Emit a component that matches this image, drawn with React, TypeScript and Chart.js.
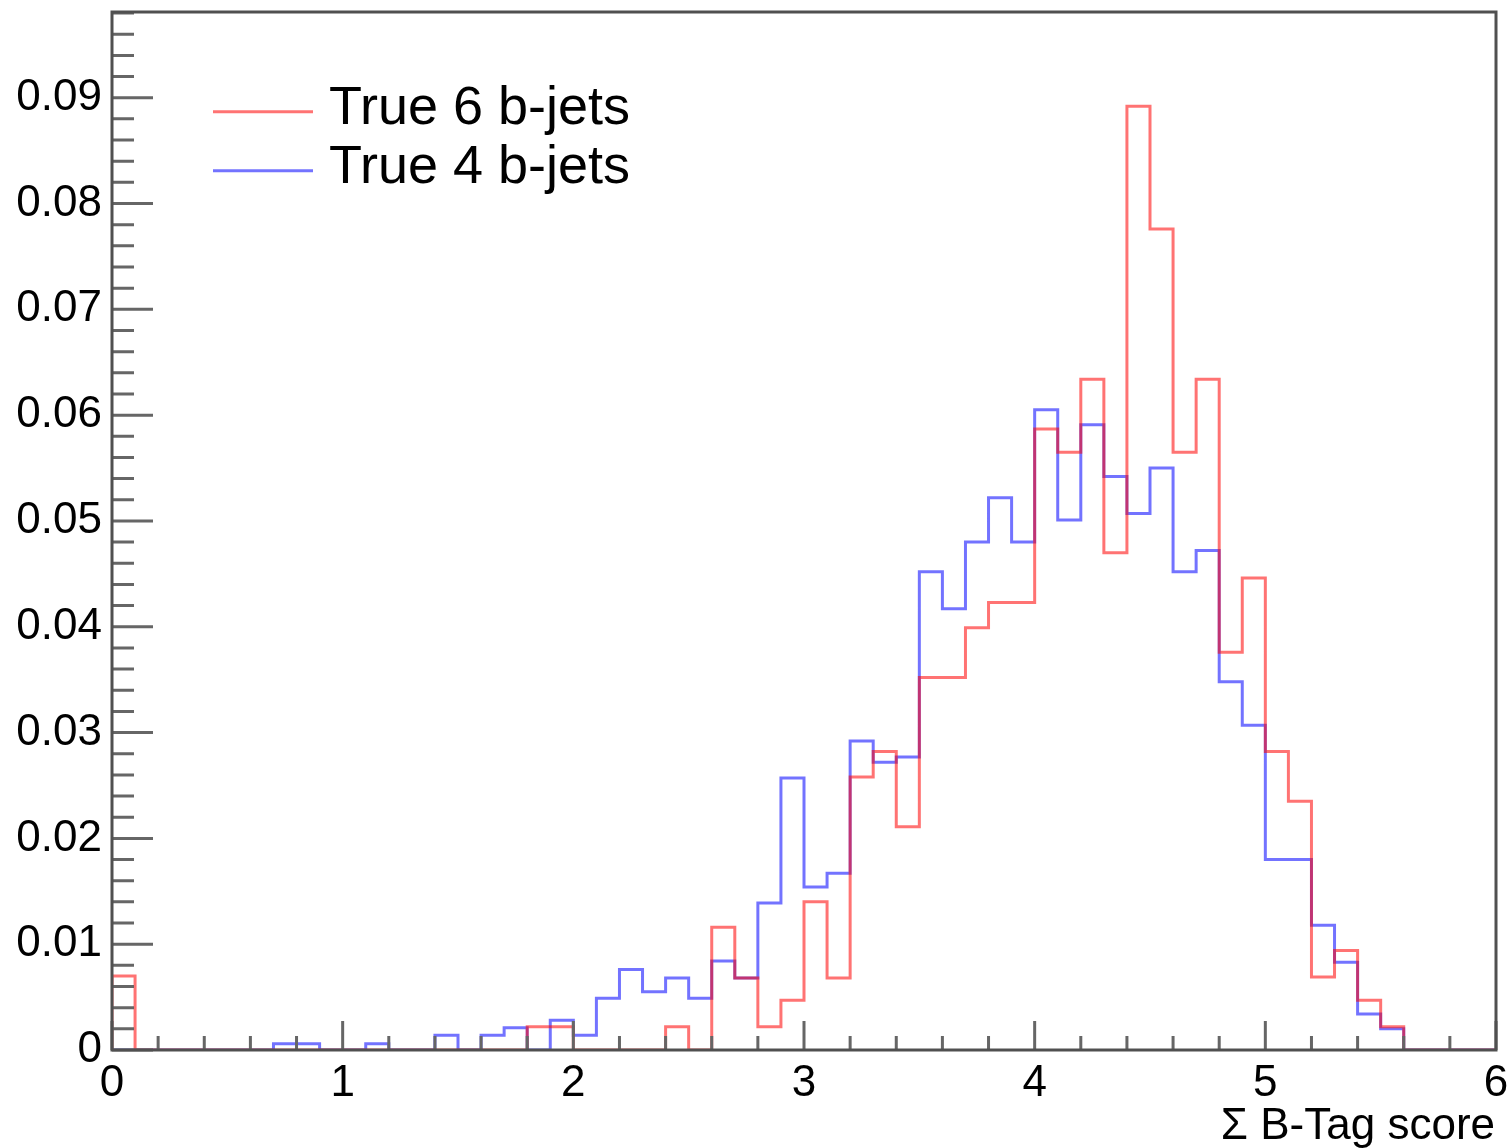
import React, { useEffect, useRef } from 'react';
import { Chart, registerables } from 'chart.js';

Chart.register(...registerables);

// ---- data ----
const binLow = 0;
const binWidth = 0.1;

const true6 = [
  0.0070, 0, 0, 0, 0, 0, 0, 0, 0, 0,
  0, 0, 0, 0, 0, 0, 0, 0, 0.0022, 0.0022,
  0, 0, 0, 0, 0.0022, 0, 0.0116, 0.0068, 0.0022, 0.0047,
  0.0140, 0.0068, 0.0258, 0.0282, 0.0211, 0.0352, 0.0352, 0.0399, 0.0423, 0.0423,
  0.0587, 0.0565, 0.0634, 0.0470, 0.0892, 0.0776, 0.0565, 0.0634, 0.0376, 0.0446,
  0.0282, 0.0235, 0.0069, 0.0094, 0.0047, 0.0022, 0, 0, 0, 0,
];

const true4 = [
  0, 0, 0, 0, 0, 0, 0, 0.0006, 0.0006, 0,
  0, 0.0006, 0, 0, 0.0014, 0, 0.0014, 0.0021, 0, 0.0028,
  0.0014, 0.0049, 0.0076, 0.0055, 0.0068, 0.0049, 0.0084, 0.0068, 0.0139, 0.0257,
  0.0154, 0.0167, 0.0292, 0.0272, 0.0277, 0.0452, 0.0417, 0.0480, 0.0522, 0.0480,
  0.0605, 0.0501, 0.0591, 0.0542, 0.0507, 0.0550, 0.0452, 0.0472, 0.0348, 0.0307,
  0.0180, 0.0180, 0.0118, 0.0083, 0.0034, 0.0020, 0, 0, 0, 0,
];

const seriesLabels = ['True 6 b-jets', 'True 4 b-jets'];
const seriesColors = ['rgba(255,0,0,0.55)', 'rgba(0,0,255,0.55)'];

const xTickValues = [0, 1, 2, 3, 4, 5, 6];
const xTickLabels = ['0', '1', '2', '3', '4', '5', '6'];
const yTickValues = [0, 0.01, 0.02, 0.03, 0.04, 0.05, 0.06, 0.07, 0.08, 0.09];
const yTickLabels = ['0', '0.01', '0.02', '0.03', '0.04', '0.05', '0.06', '0.07', '0.08', '0.09'];
const xTitle = '\u03A3 B-Tag score';

const xMin = 0;
const xMax = 6;
const yMin = 0;
const yMax = 0.0981;

const FONT = "'Liberation Sans', Arial, Helvetica, sans-serif";

function toSteps(vals: number[]) {
  const pts: { x: number; y: number }[] = [{ x: binLow, y: 0 }];
  vals.forEach((v, i) => pts.push({ x: binLow + i * binWidth, y: v }));
  pts.push({ x: binLow + vals.length * binWidth, y: 0 });
  return pts;
}

const framePlugin = {
  id: 'rootFrame',
  afterDatasetsDraw(chart: any) {
    const { ctx, chartArea } = chart;
    const xs = chart.scales.x;
    const ys = chart.scales.y;
    const { left, right, top, bottom } = chartArea;
    ctx.save();

    // ticks
    ctx.strokeStyle = '#666666';
    ctx.lineWidth = 3;
    ctx.beginPath();
    for (let k = 0; k <= 49; k++) {
      const v = k * 0.002;
      if (v > yMax) break;
      const py = ys.getPixelForValue(v);
      const major = k % 5 === 0;
      ctx.moveTo(left, py);
      ctx.lineTo(left + (major ? 41 : 22), py);
    }
    for (let k = 0; k <= 30; k++) {
      const v = k * 0.2;
      const px = xs.getPixelForValue(v);
      const major = k % 5 === 0;
      ctx.moveTo(px, bottom);
      ctx.lineTo(px, bottom - (major ? 29 : 14));
    }
    ctx.stroke();

    // frame
    ctx.strokeStyle = '#505050';
    ctx.lineWidth = 3;
    ctx.strokeRect(left, top, right - left, bottom - top);

    // legend
    const legendRows = [111.7, 170.7];
    seriesLabels.forEach((lab, i) => {
      ctx.strokeStyle = seriesColors[i];
      ctx.lineWidth = 3;
      ctx.beginPath();
      ctx.moveTo(213, legendRows[i]);
      ctx.lineTo(313, legendRows[i]);
      ctx.stroke();
      ctx.fillStyle = '#000';
      ctx.font = `54px ${FONT}`;
      ctx.textAlign = 'left';
      ctx.textBaseline = 'alphabetic';
      ctx.fillText(lab, 329, legendRows[i] + 12);
    });

    // axis title
    ctx.fillStyle = '#000';
    ctx.font = `44px ${FONT}`;
    ctx.textAlign = 'right';
    ctx.textBaseline = 'alphabetic';
    ctx.fillText(xTitle, right - 1, 1139);

    ctx.restore();
  },
};

export default function App() {
  const canvasRef = useRef<HTMLCanvasElement | null>(null);

  useEffect(() => {
    if (!canvasRef.current) return;
    const chart = new Chart(canvasRef.current, {
      type: 'line',
      data: {
        datasets: [
          {
            label: seriesLabels[0],
            data: toSteps(true6),
            borderColor: seriesColors[0],
            borderWidth: 3,
            stepped: true,
            pointRadius: 0,
            fill: false,
          },
          {
            label: seriesLabels[1],
            data: toSteps(true4),
            borderColor: seriesColors[1],
            borderWidth: 3,
            stepped: true,
            pointRadius: 0,
            fill: false,
          },
        ],
      },
      options: {
        animation: false,
        responsive: false,
        maintainAspectRatio: false,
        layout: { padding: { top: 12, right: 16, left: 0, bottom: 0 } },
        plugins: {
          legend: { display: false },
          tooltip: { enabled: false },
        },
        scales: {
          x: {
            type: 'linear',
            min: xMin,
            max: xMax,
            grid: { display: false, drawTicks: false, tickLength: 0 },
            border: { display: false },
            afterBuildTicks: (s: any) => {
              s.ticks = xTickValues.map((v) => ({ value: v }));
            },
            afterFit: (s: any) => {
              s.height = 98;
              s.paddingLeft = 0;
              s.paddingRight = 0;
              s.paddingTop = 0;
              s.paddingBottom = 0;
            },
            ticks: {
              autoSkip: false,
              maxRotation: 0,
              minRotation: 0,
              padding: 7,
              color: '#000',
              font: { family: FONT, size: 44 },
              callback: (_v: any, i: number) => xTickLabels[i],
            },
          },
          y: {
            type: 'linear',
            min: yMin,
            max: yMax,
            grid: { display: false, drawTicks: false, tickLength: 0 },
            border: { display: false },
            afterBuildTicks: (s: any) => {
              s.ticks = yTickValues.map((v) => ({ value: v }));
            },
            afterFit: (s: any) => {
              s.width = 112;
              s.paddingLeft = 0;
              s.paddingRight = 0;
              s.paddingTop = 0;
              s.paddingBottom = 0;
            },
            ticks: {
              autoSkip: false,
              padding: 10,
              color: '#000',
              font: { family: FONT, size: 44 },
              callback: (_v: any, i: number) => yTickLabels[i],
            },
          },
        },
      },
      plugins: [framePlugin],
    } as any);
    return () => chart.destroy();
  }, []);

  return (
    <div style={{ position: 'absolute', left: 0, top: 0, width: 1512, height: 1148, background: '#fff' }}>
      <canvas ref={canvasRef} width={1512} height={1148} style={{ width: 1512, height: 1148 }} />
    </div>
  );
}
